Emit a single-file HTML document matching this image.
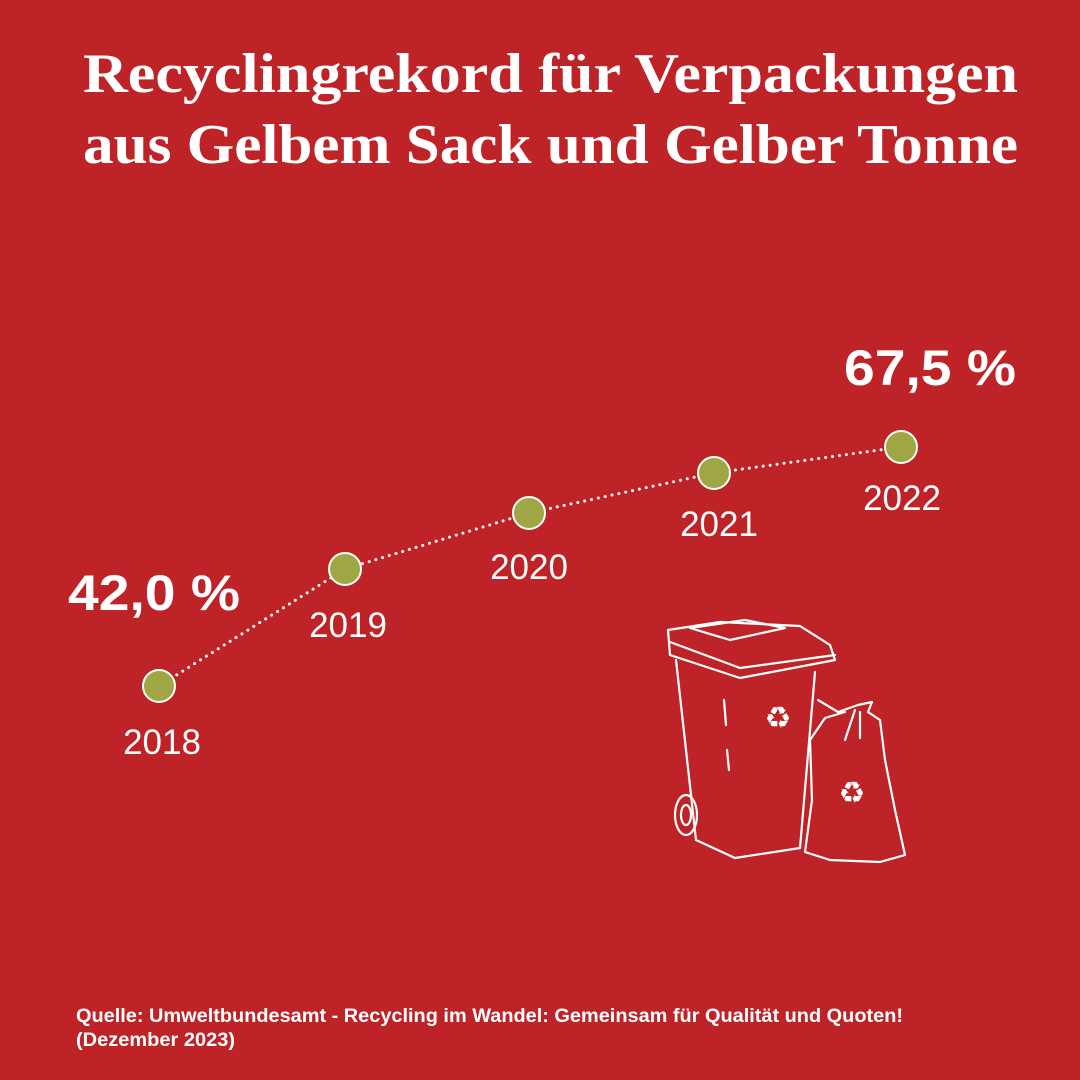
<!DOCTYPE html>
<html><head><meta charset="utf-8"><style>
html,body{margin:0;padding:0;background:#be2327;}
svg{display:block}
</style></head><body>
<svg width="1080" height="1080" viewBox="0 0 1080 1080" xmlns="http://www.w3.org/2000/svg">
<rect width="1080" height="1080" fill="#be2327"/>
<g fill="#fff" font-family="Liberation Serif, serif" font-weight="bold" font-size="56">
<text x="83" y="92" textLength="935" lengthAdjust="spacingAndGlyphs">Recyclingrekord für Verpackungen</text>
<text x="83" y="163" textLength="935" lengthAdjust="spacingAndGlyphs">aus Gelbem Sack und Gelber Tonne</text>
</g>
<polyline points="159,686 345,569 529,513 714,473 901,447" fill="none" stroke="#fff" stroke-width="3" stroke-dasharray="0 7" stroke-linecap="round"/>
<g fill="#9ea743" stroke="#fff" stroke-width="2">
<circle cx="159" cy="686" r="16"/><circle cx="345" cy="569" r="16"/><circle cx="529" cy="513" r="16"/><circle cx="714" cy="473" r="16"/><circle cx="901" cy="447" r="16"/>
</g>
<g fill="#fff" font-family="Liberation Sans, sans-serif" font-size="35" text-anchor="middle">
<text x="162" y="754">2018</text><text x="348" y="637">2019</text><text x="529" y="579">2020</text><text x="719" y="536">2021</text><text x="902" y="510">2022</text>
</g>
<g fill="#fff" font-family="Liberation Sans, sans-serif" font-weight="bold" font-size="50">
<text x="68" y="610" textLength="172" lengthAdjust="spacingAndGlyphs">42,0 %</text>
<text x="844" y="385" textLength="172" lengthAdjust="spacingAndGlyphs">67,5 %</text>
</g>
<g fill="#fff" font-family="Liberation Sans, sans-serif" font-weight="bold" font-size="19.5">
<text x="76" y="1022" textLength="827" lengthAdjust="spacingAndGlyphs">Quelle: Umweltbundesamt - Recycling im Wandel: Gemeinsam für Qualität und Quoten!</text>
<text x="76" y="1046" textLength="159" lengthAdjust="spacingAndGlyphs">(Dezember 2023)</text>
</g>
<g fill="none" stroke="#fff" stroke-width="2.2" stroke-linejoin="round" stroke-linecap="round">
<path d="M668,630 L720,622 L800,626 L830,645 L835,660 L740,678 L670,655 Z"/>
<path d="M670,642 L740,668 L835,655"/>
<path d="M690,628 L745,620 L785,628 L730,640 Z"/>
<path d="M676,660 L696,840 L735,858 L800,848 L815,672"/>
<path d="M724,700 L726,725 M727,750 L729,770"/>
<ellipse cx="686" cy="815" rx="11" ry="20"/>
<ellipse cx="686" cy="815" rx="5" ry="10"/>
<path d="M818,700 L838,712 L858,705 L872,702 L868,712 L880,720 L885,760 L895,810 L905,855 L880,862 L830,860 L805,852 L812,800 L810,740 L825,718 L845,712"/>
<path d="M855,710 L845,740 M860,712 L860,738"/>
</g>
<g fill="#fff" font-family="DejaVu Sans, sans-serif" font-size="30" text-anchor="middle">
<text x="778" y="728">♻</text><text x="852" y="803">♻</text>
</g>
</svg>
</body></html>
